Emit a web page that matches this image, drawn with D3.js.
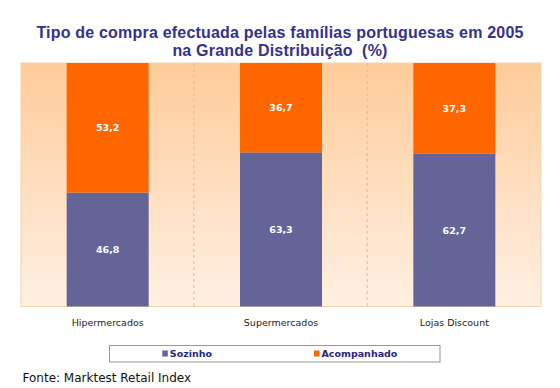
<!DOCTYPE html>
<html>
<head>
<meta charset="utf-8">
<script src="https://cdn.jsdelivr.net/npm/d3@7"></script>
<style>
  body { margin: 0; background: #fff; }
  svg { display: block; }
</style>
</head>
<body>
<div id="chart"></div>
<script>
const categories = ["Hipermercados", "Supermercados", "Lojas Discount"];
const seriesNames = ["Sozinho", "Acompanhado"];
const sozinho = [46.8, 63.3, 62.7];
const acompanhado = [53.2, 36.7, 37.3];
const titleLines = ["Tipo de compra efectuada pelas famílias portuguesas em 2005", "na Grande Distribuição  (%)"];
const source = "Fonte: Marktest Retail Index";

const w = 560, h = 388;
const plot = { left: 21, right: 541, top: 63, bottom: 306.5 };
const colors = ["#646499", "#ff6600"];

const table = categories.map((c, i) => ({ cat: c, Sozinho: sozinho[i], Acompanhado: acompanhado[i] }));
const stacked = d3.stack().keys(seriesNames)(table);

const svg = d3.select("#chart").append("svg")
  .attr("width", w)
  .attr("height", h);

const defs = svg.append("defs");
const grad = defs.append("linearGradient")
  .attr("id", "bg").attr("x1", 0).attr("y1", 0).attr("x2", 0).attr("y2", 1);
grad.append("stop").attr("offset", "0%").attr("stop-color", "#ffcc99");
grad.append("stop").attr("offset", "100%").attr("stop-color", "#fff0e3");

const xScale = d3.scaleBand().domain(categories).range([plot.left, plot.right]).paddingInner(0).paddingOuter(0);
const yScale = d3.scaleLinear().domain([0, 100]).range([plot.bottom, plot.top]);
const barW = xScale.bandwidth() * 0.473;

// title
svg.append("g").selectAll("text")
  .data(titleLines)
  .enter().append("text")
  .attr("x", 280)
  .attr("y", (d, i) => 37.5 + i * 18.7)
  .attr("text-anchor", "middle")
  .style("white-space", "pre")
  .style("font-family", "Liberation Sans, Arial, sans-serif")
  .style("font-size", "16px")
  .style("letter-spacing", "0.2px")
  .style("font-weight", "bold")
  .style("fill", "#333388")
  .text(d => d);

// plot background
svg.append("rect")
  .attr("x", plot.left).attr("y", plot.top)
  .attr("width", plot.right - plot.left).attr("height", plot.bottom - plot.top)
  .attr("fill", "url(#bg)")
  .attr("stroke", "#efd6ad")
  .attr("stroke-width", 1);

// dashed separators
svg.append("g").selectAll("line")
  .data(categories.slice(1))
  .enter().append("line")
  .attr("x1", d => xScale(d) - 0.5).attr("x2", d => xScale(d) - 0.5)
  .attr("y1", plot.top).attr("y2", plot.bottom)
  .attr("stroke", "#c8c0b8")
  .attr("stroke-dasharray", "3,3");

// bars
const layers = svg.append("g").selectAll("g")
  .data(stacked)
  .enter().append("g")
  .attr("fill", (d, i) => colors[i]);

layers.selectAll("rect")
  .data(d => d)
  .enter().append("rect")
  .attr("x", d => xScale(d.data.cat) + (xScale.bandwidth() - barW) / 2)
  .attr("y", d => yScale(d[1]))
  .attr("width", barW)
  .attr("height", d => yScale(d[0]) - yScale(d[1]));

layers.selectAll("text")
  .data(d => d)
  .enter().append("text")
  .attr("x", d => xScale(d.data.cat) + xScale.bandwidth() / 2)
  .attr("y", d => (yScale(d[0]) + yScale(d[1])) / 2 + 3.5)
  .attr("text-anchor", "middle")
  .style("font-family", "DejaVu Sans, sans-serif")
  .style("font-size", "9.5px")
  .style("font-weight", "bold")
  .style("fill", "#ffffff")
  .text(d => d3.format(".1f")(d[1] - d[0]).replace(".", ","));

// x axis labels
const xAxis = d3.axisBottom(xScale).tickSize(0).tickPadding(0);
const gx = svg.append("g")
  .attr("transform", "translate(0," + 325.5 + ")")
  .call(xAxis);
gx.select(".domain").remove();
gx.selectAll("text")
  .attr("dy", 0)
  .style("font-family", "DejaVu Sans, sans-serif")
  .style("font-size", "9.5px")
  .style("fill", "#222222");

// legend
const legend = svg.append("g").attr("id", "legend");
legend.append("rect")
  .attr("x", 109.5).attr("y", 345.5)
  .attr("width", 330.5).attr("height", 16.5)
  .attr("fill", "#fff")
  .attr("stroke", "#999999");
const lx = [162.3, 314];
const items = legend.selectAll("g.item")
  .data(seriesNames)
  .enter().append("g")
  .attr("class", "item")
  .attr("transform", (d, i) => "translate(" + lx[i] + ",0)");
items.append("rect")
  .attr("x", 0).attr("y", 350.5)
  .attr("width", 5.5).attr("height", 6)
  .attr("fill", (d, i) => colors[i]);
items.append("text")
  .attr("x", 7.5).attr("y", 357)
  .style("font-family", "DejaVu Sans, sans-serif")
  .style("font-size", "9.5px")
  .style("font-weight", "bold")
  .style("fill", "#262680")
  .text(d => d);

// source
svg.append("text")
  .attr("x", 22.5).attr("y", 381.5)
  .style("font-family", "DejaVu Sans, sans-serif")
  .style("font-size", "12px")
  .style("fill", "#111111")
  .text(source);
</script>
</body>
</html>
